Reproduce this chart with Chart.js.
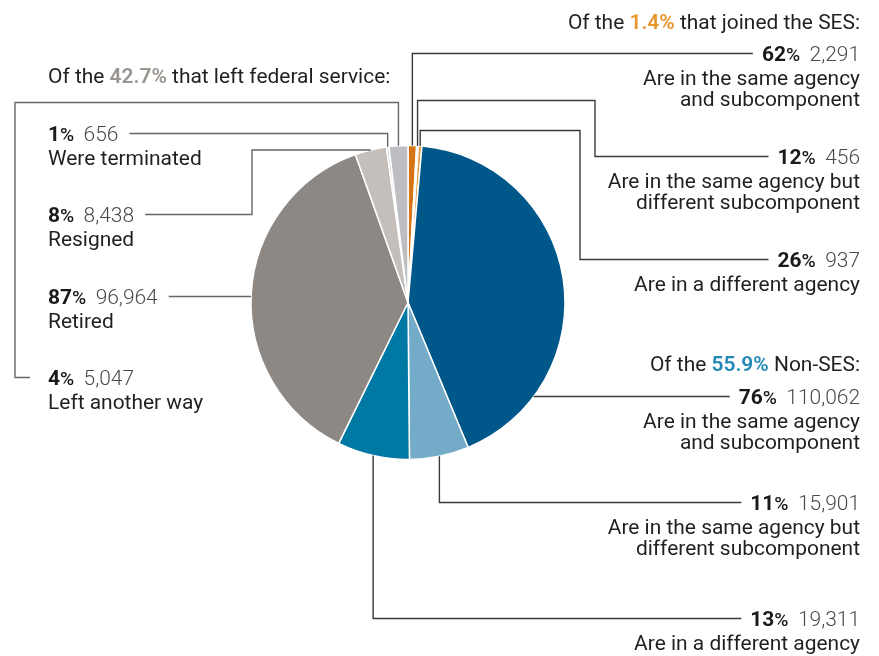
<!DOCTYPE html>
<html>
<head>
<meta charset="utf-8">
<script src="https://cdn.jsdelivr.net/npm/chart.js@4.4.1/dist/chart.umd.min.js"></script>
<style>
  html, body { margin: 0; padding: 0; background: #ffffff; }
  canvas { display: block; }
</style>
</head>
<body>
<canvas id="chart" width="879" height="656"></canvas>
<script>
// Where employees were found afterwards, by outcome (slices run clockwise from 12 o'clock)
const categories = [
  'SES: same agency and subcomponent',
  'SES: same agency, different subcomponent',
  'SES: different agency',
  'Non-SES: same agency and subcomponent',
  'Non-SES: same agency, different subcomponent',
  'Non-SES: different agency',
  'Left: retired',
  'Left: resigned',
  'Left: terminated',
  'Left: another way'
];
const counts = [2291, 456, 937, 110062, 15901, 19311, 96964, 8438, 656, 5047];
const groupPercents = [62, 12, 26, 76, 11, 13, 87, 8, 1, 4];
const descriptions = [
  ['Are in the same agency', 'and subcomponent'],
  ['Are in the same agency but', 'different subcomponent'],
  ['Are in a different agency'],
  ['Are in the same agency', 'and subcomponent'],
  ['Are in the same agency but', 'different subcomponent'],
  ['Are in a different agency'],
  ['Retired'],
  ['Resigned'],
  ['Were terminated'],
  ['Left another way']
];
const groupShares = ['1.4%', '55.9%', '42.7%'];
const groupTitleParts = [
  ['Of the ', ' that joined the SES:'],
  ['Of the ', ' Non-SES:'],
  ['Of the ', ' that left federal service:']
];

// Styling
const sliceColors = [
  '#D57518', '#E28B28', '#E89C3C',
  '#00578A', '#73ABC8', '#0078A4',
  '#8E8884', '#C4BFBB', '#D9D6D3', '#BDBEC1'
];
const groupColors = ['#E8962E', '#2289B6', '#9A948F'];
const FONT = 'Roboto, "Liberation Sans", sans-serif';

// Callout layout: text position and leader-line routing for each slice
const callouts = [
  { side: 'right', x: 860, base: 61,  anchor: 'mid',   route: (a, e) => [a, [a[0], e[1]], e] },
  { side: 'right', x: 860, base: 164, anchor: 'mid',   route: (a, e) => [a, [a[0], 100.5], [595, 100.5], [595, e[1]], e] },
  { side: 'right', x: 860, base: 267, anchor: 'mid',   route: (a, e) => [a, [a[0], 130.5], [580, 130.5], [580, e[1]], e] },
  { side: 'right', x: 860, base: 404, anchor: 'level', route: (a, e) => [a, e] },
  { side: 'right', x: 860, base: 510, anchor: 'mid',   route: (a, e) => [a, [a[0], e[1]], e] },
  { side: 'right', x: 860, base: 626, anchor: 'mid',   route: (a, e) => [a, [a[0], e[1]], e] },
  { side: 'left',  x: 48,  base: 304, anchor: 'level', route: (a, e) => [a, e] },
  { side: 'left',  x: 48,  base: 222, anchor: 'mid',   route: (a, e) => [a, [252, a[1]], [252, e[1]], e] },
  { side: 'left',  x: 48,  base: 141, anchor: 'mid',   route: (a, e) => [a, [a[0], e[1]], e] },
  { side: 'left',  x: 48,  base: 385, anchor: 'mid',   route: (a, e) => [a, [a[0], 102.5], [15, 102.5], [15, e[1]], [30, e[1]]] }
];
const headers = [
  { group: 0, side: 'right', x: 860, base: 29 },
  { group: 1, side: 'right', x: 860, base: 371 },
  { group: 2, side: 'left',  x: 48,  base: 83 }
];

function drawRuns(ctx, runs, x, y, align) {
  let total = 0;
  runs.forEach(r => {
    ctx.font = r.font;
    r.w = ctx.measureText(r.text).width + (r.gap || 0);
    total += r.w;
  });
  let cx = align === 'right' ? x - total : x;
  const left = cx;
  ctx.textBaseline = 'alphabetic';
  ctx.textAlign = 'left';
  runs.forEach(r => {
    ctx.font = r.font;
    ctx.fillStyle = r.color;
    ctx.fillText(r.text, cx, y);
    cx += r.w;
  });
  return { left: left, right: left + total };
}

const calloutPlugin = {
  id: 'callouts',
  afterDraw(chart) {
    const ctx = chart.ctx;
    ctx.save();
    ctx.font = '20px ' + FONT;
    const fs = 20 * 226 / ctx.measureText('Are in a different agency').width;
    const regular = fs.toFixed(2) + 'px ' + FONT;
    const light = '300 ' + regular;
    const bold = 'bold ' + regular;
    const pctFont = '500 ' + (fs * 0.92).toFixed(2) + 'px ' + FONT;

    headers.forEach(h => {
      const parts = groupTitleParts[h.group];
      drawRuns(ctx, [
        { text: parts[0], font: regular, color: '#231F20' },
        { text: groupShares[h.group], font: '600 ' + regular, color: groupColors[h.group] },
        { text: parts[1], font: regular, color: '#231F20' }
      ], h.x, h.base, h.side);
    });

    const meta = chart.getDatasetMeta(0);
    meta.data.forEach((arc, i) => {
      const c = callouts[i];
      const p = arc.getProps(['x', 'y', 'startAngle', 'endAngle', 'outerRadius'], true);
      const box = drawRuns(ctx, [
        { text: String(groupPercents[i]), font: bold, color: '#1A1A1A' },
        { text: '%', font: pctFont, color: '#1A1A1A', gap: fs * 0.45 },
        { text: counts[i].toLocaleString('en-US'), font: light, color: '#4A4A4A' }
      ], c.x, c.base, c.side);
      descriptions[i].forEach((line, k) => {
        drawRuns(ctx, [{ text: line, font: regular, color: '#231F20' }],
          c.x, c.base + 24 + k * 21, c.side);
      });

      const lineY = c.base - 7.5;
      const end = c.side === 'right' ? [box.left - 9, lineY] : [box.right + 11, lineY];
      let anchor;
      if (c.anchor === 'level') {
        const dy = lineY - p.y;
        const dx = Math.sqrt(Math.max(p.outerRadius * p.outerRadius - dy * dy, 0));
        anchor = [c.side === 'right' ? p.x + dx : p.x - dx, lineY];
      } else {
        const mid = (p.startAngle + p.endAngle) / 2;
        anchor = [p.x + Math.cos(mid) * p.outerRadius, p.y + Math.sin(mid) * p.outerRadius];
      }
      const pts = c.route(anchor, end);
      ctx.beginPath();
      pts.forEach((pt, k) => (k === 0 ? ctx.moveTo(pt[0], pt[1]) : ctx.lineTo(pt[0], pt[1])));
      ctx.lineWidth = 1.4;
      ctx.strokeStyle = c.side === 'right' ? '#3A3A3A' : '#666666';
      ctx.lineJoin = 'miter';
      ctx.stroke();
    });
    ctx.restore();
  }
};

new Chart(document.getElementById('chart'), {
  type: 'pie',
  data: {
    labels: categories,
    datasets: [{
      data: counts,
      backgroundColor: sliceColors,
      borderColor: '#ffffff',
      borderWidth: 1.5
    }]
  },
  options: {
    responsive: false,
    animation: false,
    events: [],
    layout: { padding: { left: 250.25, right: 313.25, top: 144.75, bottom: 195.75 } },
    plugins: {
      legend: { display: false },
      tooltip: { enabled: false }
    }
  },
  plugins: [calloutPlugin]
});
</script>
</body>
</html>
